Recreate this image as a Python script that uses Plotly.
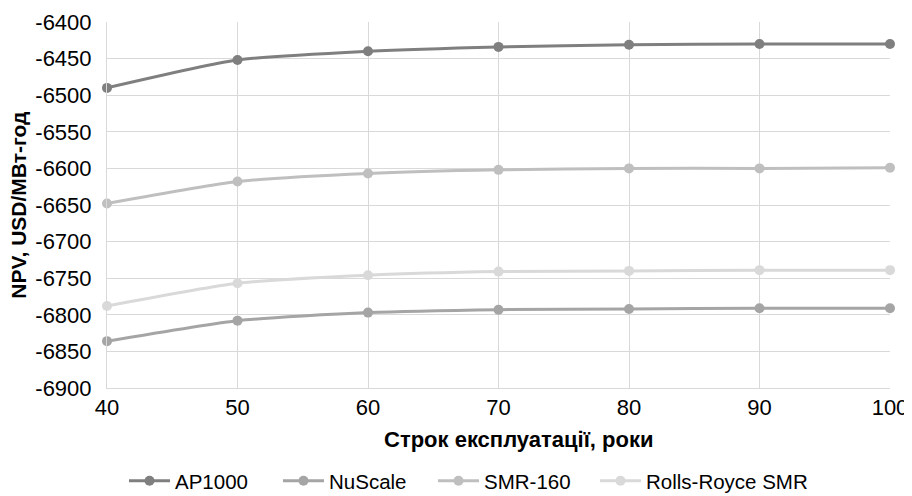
import plotly.graph_objects as go

years = [40, 50, 60, 70, 80, 90, 100]
ap1000 = [-6490, -6452, -6440, -6434, -6431, -6430, -6430]
nuscale = [-6836, -6808, -6797, -6793, -6792, -6791, -6791]
smr160 = [-6648, -6618, -6607, -6602, -6600, -6600, -6599]
rolls = [-6788, -6757, -6746, -6741, -6740, -6739, -6739]
y_ticks = [-6400, -6450, -6500, -6550, -6600, -6650, -6700, -6750, -6800, -6850, -6900]

series = [
    ("AP1000", ap1000, "#7f7f7f"),
    ("NuScale", nuscale, "#a5a5a5"),
    ("SMR-160", smr160, "#bfbfbf"),
    ("Rolls-Royce SMR", rolls, "#d9d9d9"),
]
legend_ids = ["legend", "legend2", "legend3", "legend4"]
legend_x = [116, 270, 425, 587]  # figure px of each legend entry

fig = go.Figure()
for (name, vals, col), lid in zip(series, legend_ids):
    fig.add_trace(go.Scatter(
        x=years, y=vals, name=name, mode="lines+markers",
        line=dict(color=col, width=3, shape="spline", smoothing=0.6),
        marker=dict(color=col, size=10), cliponaxis=False, legend=lid,
    ))

W, H = 912, 496
legends = {}
for lid, lx in zip(legend_ids, legend_x):
    legends[lid] = dict(orientation="h", xref="container", x=lx / W, xanchor="left",
                        yref="container", y=1 - 473 / H, yanchor="middle",
                        font=dict(size=20.5, color="#000000"), itemwidth=41,
                        bgcolor="rgba(0,0,0,0)")

font = "Liberation Sans, Arial, sans-serif"
fig.update_layout(
    width=W, height=H,
    margin=dict(l=99, r=30, t=14, b=116),
    paper_bgcolor="white", plot_bgcolor="white",
    font=dict(family=font, size=22, color="#000000"),
    showlegend=True,
    xaxis=dict(
        range=[40, 100], tickvals=years, showgrid=True, gridcolor="#d9d9d9", gridwidth=1,
        showline=True, linecolor="#d9d9d9", linewidth=1, zeroline=False,
        tickfont=dict(size=22), ticks="", automargin=False,
    ),
    yaxis=dict(
        range=[-6900, -6400], tickvals=y_ticks, ticktext=[str(v) for v in y_ticks],
        showgrid=True, gridcolor="#d9d9d9", gridwidth=1,
        showline=True, linecolor="#d9d9d9", linewidth=1, zeroline=False,
        tickfont=dict(size=22), ticks="", automargin=False, ticklabelstandoff=10,
    ),
    annotations=[
        dict(text="<b>Строк експлуатації, роки</b>", xref="paper", yref="paper",
             x=0.525, y=-0.142, showarrow=False, xanchor="center", yanchor="middle",
             font=dict(size=22)),
        dict(text="<b>NPV, USD/МВт-год</b>", xref="paper", yref="paper",
             x=-0.114, y=0.5, showarrow=False, xanchor="center", yanchor="middle",
             textangle=-90, font=dict(size=21)),
    ],
    **legends,
)
fig.write_html("out.html")
